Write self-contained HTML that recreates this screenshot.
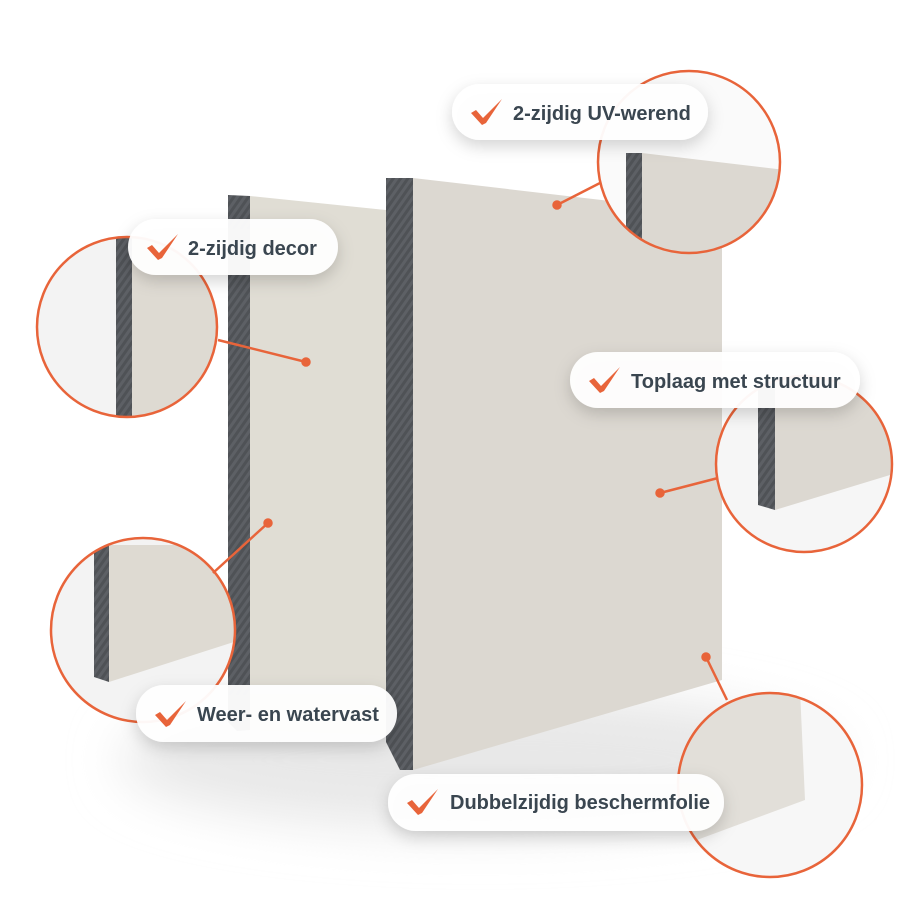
<!DOCTYPE html>
<html><head><meta charset="utf-8"><style>
html,body{margin:0;padding:0;background:#fff;}
svg{display:block}
text{font-family:"Liberation Sans",sans-serif;font-weight:bold;font-size:20px;fill:#3a4650}
</style></head><body>
<svg width="900" height="900" viewBox="0 0 900 900" xmlns="http://www.w3.org/2000/svg">
<defs>
<filter id="blur" x="-50%" y="-50%" width="200%" height="200%"><feGaussianBlur stdDeviation="25"/></filter>
<filter id="sh" x="-20%" y="-40%" width="140%" height="200%"><feDropShadow dx="0" dy="6" stdDeviation="8" flood-color="#000" flood-opacity="0.18"/></filter>
<pattern id="edge" width="6" height="6" patternUnits="userSpaceOnUse" patternTransform="rotate(35)">
<rect width="6" height="6" fill="#4f5256"/><rect width="3" height="6" fill="#5d6065"/></pattern>
<clipPath id="c1"><circle cx="127" cy="327" r="90"/></clipPath>
<clipPath id="c2"><circle cx="689" cy="162" r="91"/></clipPath>
<clipPath id="c3"><circle cx="804" cy="464" r="88"/></clipPath>
<clipPath id="c4"><circle cx="143" cy="630" r="92"/></clipPath>
<clipPath id="c5"><circle cx="770" cy="785" r="92"/></clipPath>
</defs>
<ellipse cx="480" cy="760" rx="360" ry="70" fill="#e8e8e8" filter="url(#blur)"/>
<polygon points="250,196 386,210 386,735 250,730" fill="#e0ddd4"/>
<polygon points="228,195 250,196 250,730 237,731 228,722" fill="url(#edge)"/>
<polygon points="413,178 722,214 722,680 413,770" fill="#dcd8d1"/>
<polygon points="386,178 413,178 413,770 400,770 386,742" fill="url(#edge)"/>

<g clip-path="url(#c1)"><rect x="0" y="200" width="260" height="260" fill="#f3f3f3"/>
<polygon points="132,230 230,240 230,418 132,418" fill="#dedad2"/><rect x="116" y="230" width="16" height="188" fill="url(#edge)"/></g>
<circle cx="127" cy="327" r="90" fill="none" stroke="#e8643a" stroke-width="2.5"/>

<g clip-path="url(#c2)"><rect x="590" y="60" width="200" height="210" fill="#fafafa"/>
<polygon points="642,153 785,170 785,260 642,260" fill="#dcd8d1"/><rect x="626" y="153" width="16" height="110" fill="url(#edge)"/></g>
<circle cx="689" cy="162" r="91" fill="none" stroke="#e8643a" stroke-width="2.5"/>

<g clip-path="url(#c3)"><rect x="710" y="370" width="190" height="190" fill="#f6f6f6"/>
<polygon points="775,370 900,370 900,472 775,510" fill="#dcd8d1"/><polygon points="758,370 775,370 775,510 758,505" fill="url(#edge)"/></g>
<circle cx="804" cy="464" r="88" fill="none" stroke="#e8643a" stroke-width="2.5"/>

<g clip-path="url(#c4)"><rect x="45" y="530" width="200" height="200" fill="#f3f3f3"/>
<polygon points="109,545 240,545 240,640 109,682" fill="#dedad2"/><polygon points="94,545 109,545 109,682 94,677" fill="url(#edge)"/></g>
<circle cx="143" cy="630" r="92" fill="none" stroke="#e8643a" stroke-width="2.5"/>

<g clip-path="url(#c5)"><rect x="670" y="690" width="200" height="190" fill="#f7f7f7"/>
<polygon points="670,690 800,690 805,800 670,850" fill="#e2dfd9"/></g>
<circle cx="770" cy="785" r="92" fill="none" stroke="#e8643a" stroke-width="2.5"/>

<g stroke="#e8643a" stroke-width="2.5" fill="#e8643a">
<line x1="557" y1="205" x2="600" y2="183"/><circle cx="557" cy="205" r="3.5"/>
<line x1="306" y1="362" x2="218" y2="340"/><circle cx="306" cy="362" r="3.5"/>
<line x1="660" y1="493" x2="718" y2="478"/><circle cx="660" cy="493" r="3.5"/>
<line x1="268" y1="523" x2="213" y2="573"/><circle cx="268" cy="523" r="3.5"/>
<line x1="706" y1="657" x2="727" y2="700"/><circle cx="706" cy="657" r="3.5"/>
</g>

<g filter="url(#sh)" fill="#fff" fill-opacity="0.95">
<rect x="452" y="84" width="256" height="56" rx="28"/>
<rect x="128" y="219" width="210" height="56" rx="28"/>
<rect x="570" y="352" width="290" height="56" rx="28"/>
<rect x="136" y="685" width="261" height="57" rx="28"/>
<rect x="388" y="774" width="336" height="57" rx="28"/>
</g>
<g fill="#e8643a">
<path d="M471,113 l5,-3 l7,8 l19,-19 l-16,24 l-4,2 z"/>
<path d="M147,248 l5,-3 l7,8 l19,-19 l-16,24 l-4,2 z"/>
<path d="M589,381 l5,-3 l7,8 l19,-19 l-16,24 l-4,2 z"/>
<path d="M155,715 l5,-3 l7,8 l19,-19 l-16,24 l-4,2 z"/>
<path d="M407,803 l5,-3 l7,8 l19,-19 l-16,24 l-4,2 z"/>
</g>
<text x="513" y="120">2-zijdig UV-werend</text>
<text x="188" y="255">2-zijdig decor</text>
<text x="631" y="388">Toplaag met structuur</text>
<text x="197" y="721">Weer- en watervast</text>
<text x="450" y="809">Dubbelzijdig beschermfolie</text>
</svg>
</body></html>
